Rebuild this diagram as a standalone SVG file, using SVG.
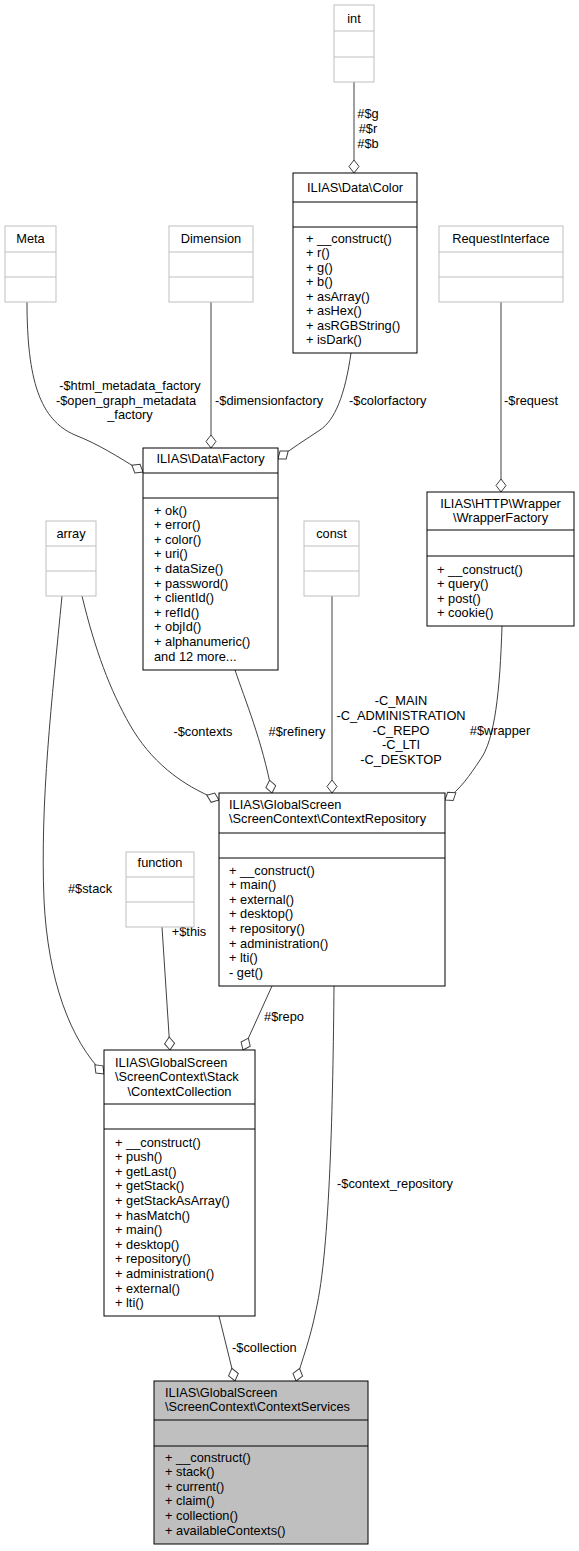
<svg xmlns="http://www.w3.org/2000/svg" width="579" height="1551" viewBox="0 0 579 1551">
<style>
text{font-family:"Liberation Sans",Arial,sans-serif;font-size:12.8px;fill:#000}
.m{text-anchor:middle}
.box{fill:#fff;stroke:#000;stroke-width:1}
.gbox{fill:#fff;stroke:#bfbfbf;stroke-width:1}
.cur{fill:#bfbfbf;stroke:#000;stroke-width:1}
.sep{stroke:#000;stroke-width:1}
.gsep{stroke:#bfbfbf;stroke-width:1}
.e{fill:none;stroke:#404040;stroke-width:1;marker-end:url(#agg)}
</style>
<defs>
<marker id="agg" markerUnits="userSpaceOnUse" viewBox="-14 -6 15 12" refX="0" refY="0" markerWidth="15" markerHeight="12" orient="auto" overflow="visible">
<path d="M0,0 L-6.5,-5 L-13,0 L-6.5,5 Z" fill="#fff" stroke="#404040" stroke-width="1"/>
</marker>
</defs>
<rect width="579" height="1551" fill="#fff"/>
<g id="edges">
<path class="e" d="M354,82 L354,173"/>
<text class="m" x="368" y="117.5">#$g</text>
<text class="m" x="368" y="132.5">#$r</text>
<text class="m" x="368" y="147.5">#$b</text>
<path class="e" d="M27,302 C27,380 40,420 75,435 C100,445 115,455 143,472"/>
<text class="m" x="130" y="389.5">-$html_metadata_factory</text>
<text class="m" x="126" y="404.5">-$open_graph_metadata</text>
<text class="m" x="130" y="418.5">_factory</text>
<path class="e" d="M211,302 L211,448"/>
<text x="215" y="404.5">-$dimensionfactory</text>
<path class="e" d="M351,353 C345,395 335,420 320,430 C305,440 292,448 278,459"/>
<text x="349" y="404.5">-$colorfactory</text>
<path class="e" d="M501,302 L501,492"/>
<text x="504" y="404.5">-$request</text>
<path class="e" d="M82,596 C95,650 110,690 130,725 C150,760 180,785 219,800"/>
<text class="m" x="203" y="735.5">-$contexts</text>
<path class="e" d="M235,670 C245,700 262,740 272,793"/>
<text class="m" x="297" y="735.5">#$refinery</text>
<path class="e" d="M332,596 L332,793"/>
<text class="m" x="401" y="704.5">-C_MAIN</text>
<text class="m" x="401" y="719.5">-C_ADMINISTRATION</text>
<text class="m" x="401" y="734.5">-C_REPO</text>
<text class="m" x="401" y="748.5">-C_LTI</text>
<text class="m" x="401" y="763.5">-C_DESKTOP</text>
<path class="e" d="M502,626 C500,690 495,740 480,760 C470,775 460,790 445,800"/>
<text class="m" x="500" y="734.5">#$wrapper</text>
<path class="e" d="M62,596 C52,700 40,800 44,900 C48,980 70,1040 104,1074"/>
<text class="m" x="90" y="892.5">#$stack</text>
<path class="e" d="M162,927 L170,1050"/>
<text class="m" x="189" y="935.5">+$this</text>
<path class="e" d="M272,986 L243,1050"/>
<text class="m" x="284" y="1020.5">#$repo</text>
<path class="e" d="M334,986 C333,1100 330,1250 316,1310 C310,1340 302,1360 296,1381"/>
<text x="337" y="1187.5">-$context_repository</text>
<path class="e" d="M219,1316 L235,1381"/>
<text x="232" y="1351.5">-$collection</text>
</g>
<g id="int">
<rect class="gbox" x="334" y="5" width="40" height="77"/>
<line class="gsep" x1="334" y1="31" x2="374" y2="31"/>
<line class="gsep" x1="334" y1="57" x2="374" y2="57"/>
<text class="m" x="354" y="22.5">int</text>
</g>
<g id="color">
<rect class="box" x="293" y="173" width="124" height="180"/>
<line class="sep" x1="293" y1="202" x2="417" y2="202"/>
<line class="sep" x1="293" y1="227" x2="417" y2="227"/>
<text class="m" x="355" y="191.5">ILIAS\Data\Color</text>
<text x="306" y="242.5">+ __construct()</text>
<text x="306" y="257">+ r()</text>
<text x="306" y="271.5">+ g()</text>
<text x="306" y="286">+ b()</text>
<text x="306" y="300.5">+ asArray()</text>
<text x="306" y="315">+ asHex()</text>
<text x="306" y="329.5">+ asRGBString()</text>
<text x="306" y="344">+ isDark()</text>
</g>
<g id="meta">
<rect class="gbox" x="5" y="226" width="51" height="76"/>
<line class="gsep" x1="5" y1="252" x2="56" y2="252"/>
<line class="gsep" x1="5" y1="277" x2="56" y2="277"/>
<text class="m" x="30.5" y="242.5">Meta</text>
</g>
<g id="dimension">
<rect class="gbox" x="169" y="226" width="84" height="76"/>
<line class="gsep" x1="169" y1="252" x2="253" y2="252"/>
<line class="gsep" x1="169" y1="277" x2="253" y2="277"/>
<text class="m" x="211" y="242.5">Dimension</text>
</g>
<g id="requestinterface">
<rect class="gbox" x="439" y="226" width="124" height="76"/>
<line class="gsep" x1="439" y1="252" x2="563" y2="252"/>
<line class="gsep" x1="439" y1="277" x2="563" y2="277"/>
<text class="m" x="501" y="242.5">RequestInterface</text>
</g>
<g id="factory">
<rect class="box" x="143" y="448" width="135" height="222"/>
<line class="sep" x1="143" y1="473" x2="278" y2="473"/>
<line class="sep" x1="143" y1="498" x2="278" y2="498"/>
<text class="m" x="210.5" y="462.5">ILIAS\Data\Factory</text>
<text x="154" y="514.5">+ ok()</text>
<text x="154" y="529.1">+ error()</text>
<text x="154" y="543.7">+ color()</text>
<text x="154" y="558.3">+ uri()</text>
<text x="154" y="572.9">+ dataSize()</text>
<text x="154" y="587.5">+ password()</text>
<text x="154" y="602.1">+ clientId()</text>
<text x="154" y="616.7">+ refId()</text>
<text x="154" y="631.3">+ objId()</text>
<text x="154" y="645.9">+ alphanumeric()</text>
<text x="154" y="660.5">and 12 more...</text>
</g>
<g id="array">
<rect class="gbox" x="46" y="521" width="50" height="75"/>
<line class="gsep" x1="46" y1="546" x2="96" y2="546"/>
<line class="gsep" x1="46" y1="571" x2="96" y2="571"/>
<text class="m" x="71" y="537.5">array</text>
</g>
<g id="const">
<rect class="gbox" x="304" y="521" width="55" height="75"/>
<line class="gsep" x1="304" y1="546" x2="359" y2="546"/>
<line class="gsep" x1="304" y1="571" x2="359" y2="571"/>
<text class="m" x="331.5" y="537.5">const</text>
</g>
<g id="wrapperfactory">
<rect class="box" x="427" y="492" width="147" height="134"/>
<line class="sep" x1="427" y1="530" x2="574" y2="530"/>
<line class="sep" x1="427" y1="556" x2="574" y2="556"/>
<text class="m" x="500.5" y="507.5">ILIAS\HTTP\Wrapper</text>
<text class="m" x="500.5" y="521.5">\WrapperFactory</text>
<text x="437" y="573.5">+ __construct()</text>
<text x="437" y="588">+ query()</text>
<text x="437" y="602.5">+ post()</text>
<text x="437" y="617">+ cookie()</text>
</g>
<g id="function">
<rect class="gbox" x="126" y="852" width="68" height="75"/>
<line class="gsep" x1="126" y1="877" x2="194" y2="877"/>
<line class="gsep" x1="126" y1="902" x2="194" y2="902"/>
<text class="m" x="160" y="866.5">function</text>
</g>
<g id="contextrepository">
<rect class="box" x="219" y="793" width="226" height="193"/>
<line class="sep" x1="219" y1="833" x2="445" y2="833"/>
<line class="sep" x1="219" y1="858" x2="445" y2="858"/>
<text x="229" y="808.5">ILIAS\GlobalScreen</text>
<text x="229" y="822.5">\ScreenContext\ContextRepository</text>
<text x="229" y="874.5">+ __construct()</text>
<text x="229" y="889.1">+ main()</text>
<text x="229" y="903.7">+ external()</text>
<text x="229" y="918.3">+ desktop()</text>
<text x="229" y="932.9">+ repository()</text>
<text x="229" y="947.5">+ administration()</text>
<text x="229" y="962.1">+ lti()</text>
<text x="229" y="976.7">- get()</text>
</g>
<g id="contextcollection">
<rect class="box" x="104" y="1050" width="151" height="266"/>
<line class="sep" x1="104" y1="1104" x2="255" y2="1104"/>
<line class="sep" x1="104" y1="1129" x2="255" y2="1129"/>
<text x="115" y="1066.5">ILIAS\GlobalScreen</text>
<text x="115" y="1081">\ScreenContext\Stack</text>
<text class="m" x="179.5" y="1095.5">\ContextCollection</text>
<text x="115" y="1146.5">+ __construct()</text>
<text x="115" y="1161.1">+ push()</text>
<text x="115" y="1175.7">+ getLast()</text>
<text x="115" y="1190.3">+ getStack()</text>
<text x="115" y="1204.9">+ getStackAsArray()</text>
<text x="115" y="1219.5">+ hasMatch()</text>
<text x="115" y="1234.1">+ main()</text>
<text x="115" y="1248.7">+ desktop()</text>
<text x="115" y="1263.3">+ repository()</text>
<text x="115" y="1277.9">+ administration()</text>
<text x="115" y="1292.5">+ external()</text>
<text x="115" y="1307.1">+ lti()</text>
</g>
<g id="contextservices">
<rect class="cur" x="154" y="1381" width="214" height="163"/>
<line class="sep" x1="154" y1="1420" x2="368" y2="1420"/>
<line class="sep" x1="154" y1="1446" x2="368" y2="1446"/>
<text x="165" y="1396.5">ILIAS\GlobalScreen</text>
<text x="165" y="1410.5">\ScreenContext\ContextServices</text>
<text x="165" y="1461.5">+ __construct()</text>
<text x="165" y="1476.1">+ stack()</text>
<text x="165" y="1490.7">+ current()</text>
<text x="165" y="1505.3">+ claim()</text>
<text x="165" y="1519.9">+ collection()</text>
<text x="165" y="1534.5">+ availableContexts()</text>
</g>
</svg>
